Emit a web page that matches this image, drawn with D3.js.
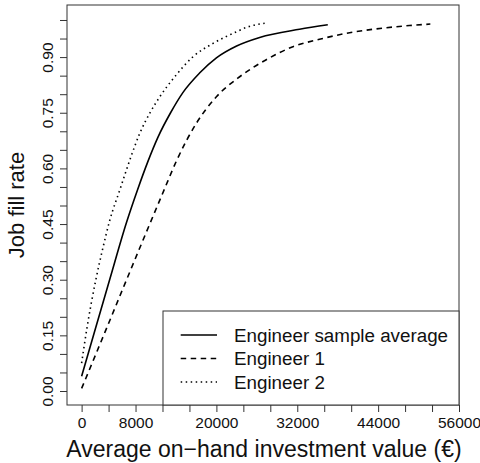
<!DOCTYPE html>
<html>
<head>
<meta charset="utf-8">
<script src="https://cdn.jsdelivr.net/npm/d3@7"></script>
<style>
  html, body { margin: 0; padding: 0; background: #fff; }
  svg { display: block; font-family: "Liberation Sans", Arial, Helvetica, sans-serif; }
</style>
</head>
<body>
<svg id="chart" width="480" height="463"></svg>
<script>
// ---- Data ----
const sampleX = [0, 2000, 4190, 6670, 8290, 9800, 11350, 13200, 15050, 17500, 20000, 23000, 26420, 32340, 36530];
const sampleY = [0.040, 0.165, 0.302, 0.455, 0.542, 0.617, 0.685, 0.750, 0.805, 0.857, 0.898, 0.930, 0.953, 0.975, 0.987];

const eng1X = [0, 3450, 6900, 9600, 12240, 14070, 17040, 20000, 23450, 27400, 31350, 35300, 39260, 43700, 48640, 51750];
const eng1Y = [0.007, 0.158, 0.310, 0.428, 0.542, 0.620, 0.722, 0.793, 0.847, 0.893, 0.928, 0.948, 0.964, 0.976, 0.985, 0.989];

const eng2X = [0, 740, 2100, 3150, 4190, 5670, 7160, 8640, 10120, 11600, 13820, 16530, 19500, 22960, 24440, 27160];
const eng2Y = [0.075, 0.164, 0.299, 0.385, 0.461, 0.542, 0.623, 0.695, 0.749, 0.793, 0.847, 0.901, 0.937, 0.968, 0.980, 0.991];

const seriesNames = ["Engineer sample average", "Engineer 1", "Engineer 2"];
const xTicks = d3.range(0, 56001, 4000);
const xTickLabels = [0, 8000, 20000, 32000, 44000, 56000];
const yTicks = d3.range(0, 21).map(i => +(i * 0.05).toFixed(2));
const yTickLabels = [0, 0.15, 0.30, 0.45, 0.60, 0.75, 0.90];
const xTitle = "Average on\u2212hand investment value (\u20AC)";
const yTitle = "Job fill rate";

// ---- Layout ----
const plot = { left: 67, top: 5, right: 459, bottom: 405 };
const svg = d3.select("#chart");

const x = d3.scaleLinear().domain([-2170, 56000]).range([plot.left, plot.right]);
const y = d3.scaleLinear().domain([-0.0377, 1.0404]).range([plot.bottom, plot.top]);

// Plot box
svg.append("rect")
  .attr("x", plot.left).attr("y", plot.top)
  .attr("width", plot.right - plot.left).attr("height", plot.bottom - plot.top)
  .attr("fill", "none").attr("stroke", "#333").attr("stroke-width", 1);

// X axis
const xAxis = d3.axisBottom(x)
  .tickValues(xTicks)
  .tickSize(7)
  .tickFormat(d => xTickLabels.includes(d) ? String(d) : "");
const gx = svg.append("g").attr("transform", `translate(0,${plot.bottom})`).call(xAxis);
gx.select(".domain").remove();
gx.selectAll(".tick line").attr("stroke", "#333");
gx.selectAll(".tick text")
  .attr("y", 23).attr("dy", null)
  .attr("font-size", 15.5).attr("fill", "#111")
  .attr("font-family", "Liberation Sans, Arial, sans-serif");

// Y axis
const yAxis = d3.axisLeft(y)
  .tickValues(yTicks)
  .tickSize(7)
  .tickFormat(d => yTickLabels.some(v => Math.abs(v - d) < 1e-9) ? d3.format(".2f")(d) : "");
const gy = svg.append("g").attr("transform", `translate(${plot.left},0)`).call(yAxis);
gy.select(".domain").remove();
gy.selectAll(".tick line").attr("stroke", "#333");
gy.selectAll(".tick text")
  .attr("x", null).attr("dy", null)
  .attr("transform", "translate(-14.3,0) rotate(-90)")
  .attr("text-anchor", "middle")
  .attr("font-size", 15.5).attr("fill", "#111")
  .attr("font-family", "Liberation Sans, Arial, sans-serif");

// Axis titles
svg.append("text")
  .attr("x", (plot.left + plot.right) / 2 + 1).attr("y", 456.5)
  .attr("text-anchor", "middle").attr("font-size", 23).attr("fill", "#111")
  .text(xTitle);
svg.append("text")
  .attr("transform", `translate(24,${(plot.top + plot.bottom) / 2}) rotate(-90)`)
  .attr("text-anchor", "middle").attr("font-size", 22).attr("fill", "#111")
  .text(yTitle);

// Curves
const line = d3.line().x(d => x(d[0])).y(d => y(d[1])).curve(d3.curveMonotoneX);
const styles = [
  { dash: null },
  { dash: "5.5,4.5" },
  { dash: "1.5,3.5" }
];
const series = [
  d3.zip(sampleX, sampleY),
  d3.zip(eng1X, eng1Y),
  d3.zip(eng2X, eng2Y)
];
series.forEach((s, i) => {
  svg.append("path")
    .attr("d", line(s))
    .attr("fill", "none").attr("stroke", "#000").attr("stroke-width", 1.6)
    .attr("stroke-dasharray", styles[i].dash);
});

// Legend (bottom-right)
const lg = { left: 163, top: 311, right: plot.right, bottom: plot.bottom };
svg.append("rect")
  .attr("x", lg.left).attr("y", lg.top)
  .attr("width", lg.right - lg.left).attr("height", lg.bottom - lg.top)
  .attr("fill", "#fff").attr("stroke", "#333").attr("stroke-width", 1);
const rowY = [335, 358.5, 382];
seriesNames.forEach((name, i) => {
  svg.append("line")
    .attr("x1", 180.7).attr("x2", 217).attr("y1", rowY[i]).attr("y2", rowY[i])
    .attr("stroke", "#000").attr("stroke-width", 1.6)
    .attr("stroke-dasharray", styles[i].dash);
  svg.append("text")
    .attr("x", 234).attr("y", rowY[i] + 6.6)
    .attr("font-size", 18.8).attr("fill", "#111")
    .text(name);
});
</script>
</body>
</html>
